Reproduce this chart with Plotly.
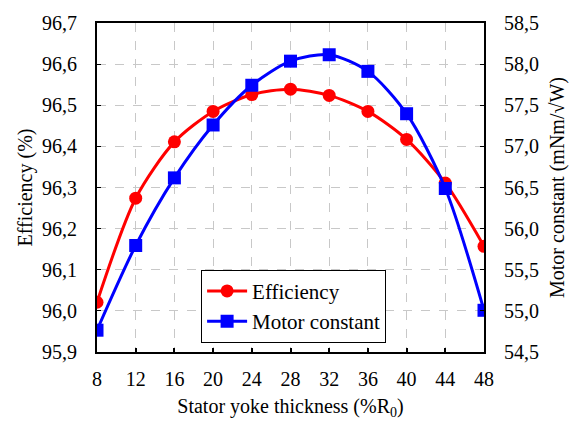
import plotly.graph_objects as go

thickness = [8, 12, 16, 20, 24, 28, 32, 36, 40, 44, 48]
efficiency = [96.021, 96.274, 96.411, 96.485, 96.526, 96.539, 96.524, 96.485, 96.417, 96.311, 96.157]
motor_constant = [54.765, 55.795, 56.617, 57.26, 57.743, 58.036, 58.114, 57.912, 57.397, 56.488, 55.007]

FONT = "Times New Roman, Liberation Serif, serif"

fig = go.Figure()
fig.add_trace(go.Scatter(
    x=thickness, y=efficiency, name="Efficiency",
    mode="lines+markers", line=dict(color="#ff0000", width=3, shape="spline", smoothing=0.8),
    marker=dict(symbol="circle", size=13, color="#ff0000"),
))
fig.add_trace(go.Scatter(
    x=thickness, y=motor_constant, name="Motor constant", yaxis="y2",
    mode="lines+markers", line=dict(color="#0000ff", width=3, shape="spline", smoothing=0.8),
    marker=dict(symbol="square", size=13, color="#0000ff"),
))

fig.update_layout(
    width=585, height=426,
    margin=dict(l=97, r=101, t=13, b=71),
    paper_bgcolor="white", plot_bgcolor="white",
    separators=", ",
    font=dict(family=FONT, size=20, color="black"),
    showlegend=True,
    legend=dict(
        x=0.269, y=0.25, xanchor="left", yanchor="top",
        bordercolor="black", borderwidth=1, bgcolor="white",
        font=dict(family=FONT, size=21), tracegroupgap=0, itemwidth=40,
    ),
    xaxis=dict(
        range=[8, 48], tickvals=thickness, ticks="inside", ticklen=4, tickwidth=1.5,
        tickcolor="black", showline=True, linecolor="black", linewidth=2, mirror=True,
        showgrid=True, gridcolor="#c8c8c8", griddash="dash", gridwidth=1,
        ticklabelstandoff=8,
        title=dict(text="Stator yoke thickness (%R<sub>0</sub>)", font=dict(family=FONT, size=20), standoff=10),
        zeroline=False,
    ),
    yaxis=dict(
        range=[95.9, 96.7], dtick=0.1, tick0=95.9, tickformat=".1f", ticks="inside", ticklen=4,
        tickcolor="black", showline=True, linecolor="black", linewidth=2, mirror=True,
        showgrid=True, gridcolor="#c8c8c8", griddash="dash", gridwidth=1,
        ticklabelstandoff=14,
        title=dict(text="Efficiency (%)", font=dict(family=FONT, size=20), standoff=4),
        zeroline=False,
    ),
    yaxis2=dict(
        range=[54.5, 58.5], dtick=0.5, tick0=54.5, tickformat=".1f", ticks="inside", ticklen=4,
        tickcolor="black", overlaying="y", side="right", showline=True, linecolor="black",
        linewidth=2, showgrid=False, zeroline=False, ticklabelstandoff=14,
        title=dict(text="Motor constant (mNm/√W)", font=dict(family=FONT, size=20), standoff=12),
    ),
)

fig.write_html("out.html")
